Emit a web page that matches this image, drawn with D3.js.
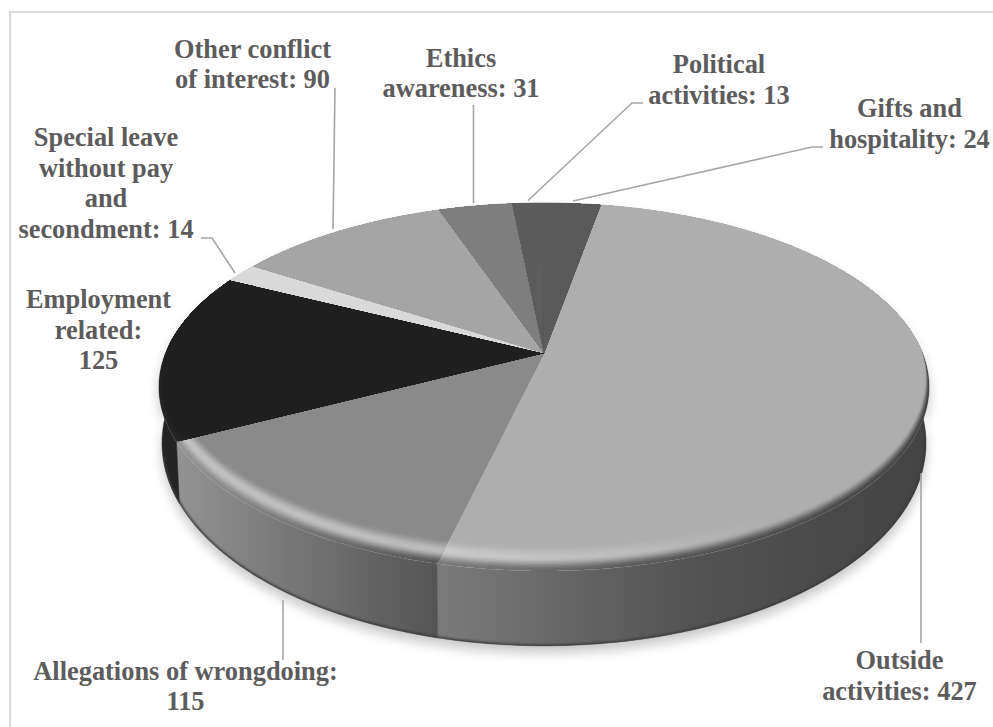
<!DOCTYPE html>
<html><head><meta charset="utf-8">
<script src="https://cdn.jsdelivr.net/npm/d3@7"></script>
<style>html,body{margin:0;padding:0;background:#fff;overflow:hidden}
text{font-family:"Liberation Serif","Times New Roman",serif;font-weight:700;font-size:26.4px;fill:#5c5c5c;text-anchor:middle}</style>
</head><body><svg id="c" width="993" height="727"></svg>
<script>
// ---- data ----
const categories = ["Outside activities","Allegations of wrongdoing","Employment related","Special leave without pay and secondment","Other conflict of interest","Ethics awareness","Political activities","Gifts and hospitality"];
const values = [427,115,125,14,90,31,13,24];
const faceGreys = ["#aeaeae","#8a8a8a","#1f1f1f","#d9d9d9","#a5a5a5","#7e7e7e","#5c5c5c","#5a5a5a"];
// label wrapping as in the picture
const labelLines = [
  ["Outside","activities: 427"],
  ["Allegations of wrongdoing:","115"],
  ["Employment","related:","125"],
  ["Special leave","without pay","and","secondment: 14"],
  ["Other conflict","of interest: 90"],
  ["Ethics","awareness: 31"],
  ["Political","activities: 13"],
  ["Gifts and","hospitality: 24"]
];
const labelAnchors = [[899.5,669],[185.5,680],[98.5,308],[106,146],[252.5,58],[461,67],[719,73],[909.5,117]];
const lineHeights = [31,30,30.5,30.7,30,30,31,31];
const leaders = [
  [[921,473],[921,643]],
  [[283,600],[283,660]],
  [],
  [[235,273],[212,238],[201,238]],
  [[333,229],[335,88]],
  [[473.5,203],[473.5,105]],
  [[528,200.5],[632,103],[643,103]],
  [[573,201],[812,147],[823,147]]
];
// ---- projection of the pie disc ----
const cx=544, topY0=353, k=0.1848, A=378.4, B=177.7;     // top face
const botY0=405.5, botA=375.4, botB=196;                   // lower rim
const svg=d3.select("#c"), defs=svg.append("defs");
const startDeg=10.2;
const pie=d3.pie().sort(null).startAngle(startDeg*Math.PI/180).endAngle((startDeg+360)*Math.PI/180);
const arcs=pie(values);
function proj(ang,r,a,b,y0,dy){
  const u=r*Math.sin(ang), v=-r*Math.cos(ang), w=1-k*v;
  return [cx+a*u/w, y0+b*v/w+(dy||0)];
}
const top_=(ang,r,dy)=>proj(ang,r,A,B,topY0,dy);
const bot=(ang)=>proj(ang,1,botA,botB,botY0,0);
const line=d3.line();
const steps=(a0,a1)=>{const n=Math.max(2,Math.ceil((a1-a0)/0.01));return d3.range(n+1).map(i=>a0+(a1-a0)*i/n)};
const wedgePath=d=>line([top_(0,0)].concat(steps(d.startAngle,d.endAngle).map(a=>top_(a,1))))+"Z";
const discPath=(r,dy)=>line(steps(0,2*Math.PI).map(a=>top_(a,r,dy)))+"Z";
const wallPath=d=>{const s=steps(d.startAngle,d.endAngle);return line(s.map(a=>top_(a,1)).concat(s.slice().reverse().map(bot)))+"Z"};

// shading of the wall across x
const wallRamps=[
  d3.scaleLinear().domain([441,680,930]).range(["#7a7a7a","#545454","#434343"]).clamp(true),
  d3.scaleLinear().domain([180,300,441]).range(["#929292","#757575","#535353"]).clamp(true),
  d3.scaleLinear().domain([158,300]).range(["#242424","#222222"]).clamp(true),
  ()=> "#9a9a9a", ()=> "#777777", ()=> "#555555", ()=> "#404040", ()=> "#3e3e3e"
];
const highlight=d3.scaleLinear().domain([180,441,640,760]).range([0.62,0.55,0.22,0]).clamp(true);
const stopXs=d3.range(158,931,22);
function rimColour(i,x,t){
  const wall=d3.color(wallRamps[i](x)), face=d3.color(faceGreys[i]);
  const h=i<2?highlight(x):0;
  const lite=d3.interpolateRgb(face,"#e4e4e4")(h);
  if(t<0.5) return d3.interpolateRgb(wall,lite)(d3.easeSinInOut(t/0.5));
  return d3.interpolateRgb(lite,face)(d3.easeSinInOut((t-0.5)/0.5));
}
function gradient(id,fn){
  const g=defs.append("linearGradient").attr("id",id).attr("gradientUnits","userSpaceOnUse")
    .attr("x1",158).attr("x2",930).attr("y1",0).attr("y2",0);
  g.selectAll("stop").data(stopXs).join("stop")
    .attr("offset",x=>(x-158)/772).attr("stop-color",fn);
  return `url(#${id})`;
}
defs.append("filter").attr("id","blur").attr("x","-10%").attr("y","-10%").attr("width","120%").attr("height","120%")
  .append("feGaussianBlur").attr("stdDeviation",6);
defs.append("filter").attr("id","soft").append("feGaussianBlur").attr("stdDeviation",1);
defs.append("clipPath").attr("id","bodyClip").append("path").attr("d",discPath(1,0)+line(steps(0,2*Math.PI).map(bot))+"Z");

// border
svg.append("rect").attr("x",10).attr("y",12).attr("width",1100).attr("height",900)
  .attr("fill","#fff").attr("stroke","#d9d9d9").attr("stroke-width",2);

// shadow
svg.append("g").attr("filter","url(#blur)").attr("transform","translate(0,7)").attr("opacity",0.3)
  .selectAll("path").data(arcs).join("path").attr("d",wallPath).attr("fill","#444");

// walls
svg.append("g").selectAll("path").data(arcs).join("path")
  .attr("d",wallPath)
  .attr("fill",(d,i)=>gradient("wall"+i,x=>wallRamps[i](x)))
  .attr("stroke",(d,i)=>gradient("wallS"+i,x=>wallRamps[i](x))).attr("stroke-width",0.5);
// dark foot of the wall
svg.append("path")
  .attr("d",line(steps(Math.PI*0.5,Math.PI*1.42).map(bot)))
  .attr("fill","none").attr("stroke","#3a3a3a").attr("stroke-width",3).attr("filter","url(#soft)").attr("clip-path","url(#bodyClip)");

// top face: each slice is a wedge clip holding stacked discs that form the soft bevel
const layers=d3.range(0,1.0001,1/18);
const faces=svg.append("g");
arcs.forEach((d,i)=>{
  defs.append("clipPath").attr("id","wedge"+i).append("path").attr("d",wedgePath(d));
  const g=faces.append("g").attr("clip-path",`url(#wedge${i})`);
  layers.forEach((t,j)=>{
    g.append("path").attr("d",discPath(1-0.02*t,-20*t))
      .attr("fill",gradient(`rim${i}_${j}`,x=>rimColour(i,x,t)));
  });
});

// leaders
svg.append("g").selectAll("path").data(leaders.filter(l=>l.length)).join("path")
  .attr("d",d=>line(d)).attr("fill","none").attr("stroke","#a6a6a6").attr("stroke-width",1.6);

// labels
const lab=svg.append("g");
categories.forEach((c,i)=>{
  const t=lab.append("text").attr("x",labelAnchors[i][0]).attr("y",labelAnchors[i][1]);
  t.selectAll("tspan").data(labelLines[i]).join("tspan")
    .attr("x",labelAnchors[i][0])
    .attr("y",(s,j)=>labelAnchors[i][1]+j*lineHeights[i]).text(s=>s);
});
</script></body></html>
